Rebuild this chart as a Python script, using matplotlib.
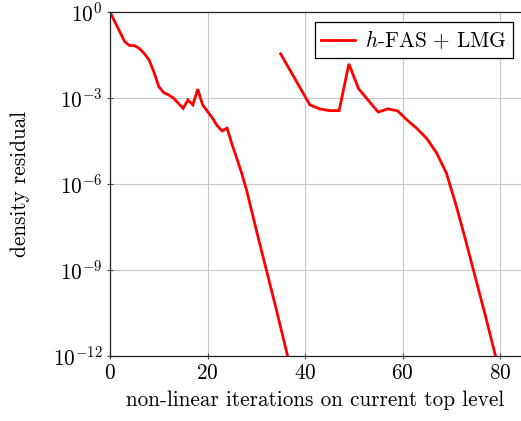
import matplotlib
matplotlib.use("Agg")
import matplotlib.pyplot as plt
import numpy as np

# first run (levels up to refinement)
x1 = [0, 3, 4, 5, 6, 7, 8, 9, 10, 11, 12, 13, 15, 16, 17, 18, 19, 20, 21, 22, 23, 24,
      25, 26, 27, 28, 30, 32, 34, 36, 37]
e1 = [0.0, -1.03, -1.17, -1.17, -1.27, -1.44, -1.67, -2.09, -2.6, -2.81, -2.89, -3.0,
      -3.36, -3.07, -3.24, -2.69, -3.24, -3.47, -3.70, -3.97, -4.15, -4.05,
      -4.6, -5.1, -5.62, -6.2, -7.6, -8.95, -10.3, -11.7, -12.4]
# second run
x2 = [35, 41, 43, 45, 47, 49, 51, 55, 57, 59, 61, 63, 65, 67, 69, 71, 73, 75, 77, 79, 80]
e2 = [-1.46, -3.24, -3.38, -3.44, -3.44, -1.81, -2.68, -3.49, -3.38, -3.45, -3.78,
      -4.07, -4.42, -4.92, -5.62, -6.75, -8.0, -9.3, -10.6, -11.95, -12.6]

legend_label = r"$h$-FAS$\,+\,$LMG"
xlabel = "non-linear iterations on current top level"
ylabel = "density residual"
yticks = [1e0, 1e-3, 1e-6, 1e-9, 1e-12]
xticks = [0, 20, 40, 60, 80]

plt.rcParams["font.family"] = ["cmr10", "DejaVu Serif"]
plt.rcParams["mathtext.fontset"] = "cm"
plt.rcParams["axes.formatter.use_mathtext"] = True

FS = 15.3
fig = plt.figure(figsize=(5.21, 4.21), dpi=100)
ax = fig.add_axes([110 / 521, (421 - 356) / 421, (521 - 110) / 521, (356 - 12) / 421])

red = "#ff0000"
ax.plot(x1, 10.0 ** np.array(e1), color=red, lw=2.0, label=legend_label,
        solid_joinstyle="miter")
ax.plot(x2, 10.0 ** np.array(e2), color=red, lw=2.0, solid_joinstyle="miter")

ax.set_yscale("log")
ax.set_ylim(1e-12, 1e0)
ax.set_xlim(0, 84.3)
ax.set_yticks(yticks)
ax.set_xticks(xticks)
ax.yaxis.set_minor_locator(matplotlib.ticker.NullLocator())
ax.grid(True, color="#c8c8c8", lw=0.8)
ax.set_axisbelow(True)
ax.spines["right"].set_visible(False)
for s in ["left", "bottom", "top"]:
    ax.spines[s].set_linewidth(0.9)
    ax.spines[s].set_color("#222222")
ax.tick_params(direction="inout", length=5, width=0.8, labelsize=FS, color="#444444",
               top=False, right=False, pad=3)

ax.set_xlabel(xlabel, fontsize=FS, labelpad=5)
ax.set_ylabel(ylabel, fontsize=FS, labelpad=16)

leg = ax.legend(loc="upper right", fontsize=FS, frameon=True, fancybox=False,
                edgecolor="black", framealpha=1, handlelength=1.6, handletextpad=0.45,
                borderpad=0.3, borderaxespad=0, bbox_to_anchor=(0.98, 0.97))
leg.get_frame().set_linewidth(0.9)

fig.savefig("out.png", dpi=100)
